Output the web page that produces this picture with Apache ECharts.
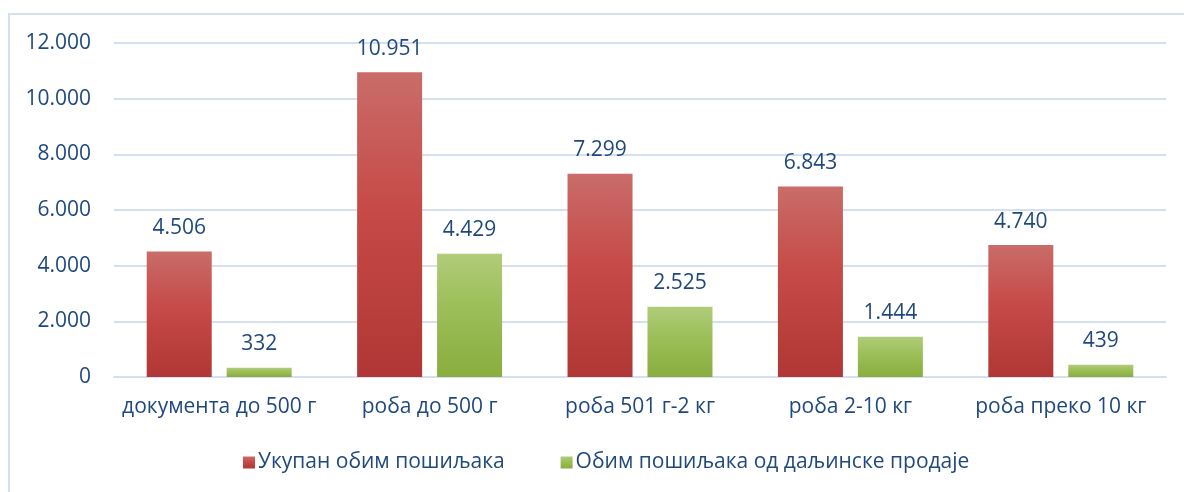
<!DOCTYPE html>
<html lang="sr">
<head>
    <meta charset="UTF-8">
    <title>Обим пошиљака</title>
    <style>
        html, body { margin: 0; padding: 0; background: #fff; }
        #frame { position: absolute; left: 8px; top: 13px; width: 1190px; height: 490px; border: 2px solid #d5e0ef; box-sizing: border-box; }
        #main { position: absolute; left: 0; top: 0; width: 1184px; height: 492px; }
    </style>
</head>
<body>
<div id="frame"></div>
<div id="main"></div>
<script src="https://cdn.jsdelivr.net/npm/echarts@6/dist/echarts.min.js"></script>
<script type="text/javascript">
    var categories = ['документа до 500 г', 'роба до 500 г', 'роба 501 г-2 кг', 'роба 2-10 кг', 'роба преко 10 кг'];
    var seriesNames = ['Укупан обим пошиљака', 'Обим пошиљака од даљинске продаје'];
    var totalVolume = [4506, 10951, 7299, 6843, 4740];
    var distanceSales = [332, 4429, 2525, 1444, 439];

    var textColor = '#1f497d';
    var font = '"Open Sans", "Noto Sans", sans-serif';
    var fs = 21;

    function fmt(v) {
        return String(v).replace(/\B(?=(\d{3})+(?!\d))/g, '.');
    }

    var myChart = echarts.init(document.getElementById('main'), null, { renderer: 'canvas' });

    var option = {
        animation: false,
        textStyle: { fontFamily: font },
        grid: { left: 114, right: 18, top: 43, bottom: 115 },
        legend: {
            data: seriesNames,
            bottom: 14,
            left: 238,
            itemWidth: 12,
            itemHeight: 12,
            itemGap: 56,
            icon: 'rect',
            textStyle: { color: textColor, fontSize: fs, fontFamily: font, padding: [0, 0, 0, -2] }
        },
        xAxis: {
            type: 'category',
            data: categories,
            axisLine: { lineStyle: { color: '#d5e0ef', width: 2 } },
            axisTick: { show: false },
            axisLabel: { color: textColor, fontSize: fs, margin: 20, fontFamily: font, interval: 0 }
        },
        yAxis: {
            type: 'value',
            min: 0,
            max: 12000,
            interval: 2000,
            axisLine: { show: false },
            axisTick: { show: false },
            splitLine: { lineStyle: { color: '#d5e0ef', width: 2 } },
            axisLabel: {
                color: textColor, fontSize: fs, margin: 23, fontFamily: font,
                formatter: function (v) { return fmt(v); }
            }
        },
        series: [
            {
                name: seriesNames[0],
                type: 'bar',
                data: totalVolume,
                barWidth: 65,
                barGap: '23%',
                itemStyle: {
                    color: new echarts.graphic.LinearGradient(0, 0, 0, 1, [
                        { offset: 0, color: '#c96c69' },
                        { offset: 0.45, color: '#c64a47' },
                        { offset: 1, color: '#b03735' }
                    ])
                },
                label: {
                    show: true, position: 'top', distance: 13,
                    color: textColor, fontSize: fs, fontFamily: font,
                    formatter: function (p) { return fmt(p.value); }
                }
            },
            {
                name: seriesNames[1],
                type: 'bar',
                data: distanceSales,
                barWidth: 65,
                itemStyle: {
                    color: new echarts.graphic.LinearGradient(0, 0, 0, 1, [
                        { offset: 0, color: '#b1cc7a' },
                        { offset: 0.45, color: '#9bbe57' },
                        { offset: 1, color: '#8aad3f' }
                    ])
                },
                label: {
                    show: true, position: 'top', distance: 13,
                    color: textColor, fontSize: fs, fontFamily: font,
                    formatter: function (p) { return fmt(p.value); }
                }
            }
        ]
    };

    myChart.setOption(option);
</script>
</body>
</html>
